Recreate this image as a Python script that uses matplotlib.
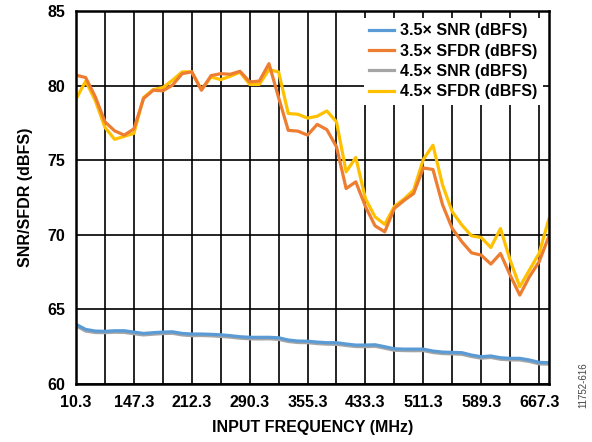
import matplotlib
matplotlib.use("Agg")
import matplotlib.pyplot as plt

plt.rcParams["font.family"] = ["Liberation Sans", "DejaVu Sans"]
plt.rcParams["font.weight"] = "bold"

# category axis: 50 measured frequencies, labelled every 6th point
tick_labels = ["10.3", "147.3", "212.3", "290.3", "355.3", "433.3", "511.3", "589.3", "667.3"]

snr_35 = [64.00, 63.66, 63.55, 63.53, 63.57, 63.57, 63.48, 63.39, 63.44, 63.48,
          63.50, 63.39, 63.35, 63.35, 63.33, 63.30, 63.24, 63.17, 63.13, 63.13,
          63.13, 63.10, 62.95, 62.88, 62.87, 62.81, 62.77, 62.77, 62.68, 62.61,
          62.61, 62.63, 62.50, 62.36, 62.34, 62.34, 62.34, 62.21, 62.14, 62.12,
          62.10, 61.94, 61.83, 61.88, 61.76, 61.72, 61.72, 61.61, 61.45, 61.43]

sfdr_35 = [80.70, 80.54, 79.25, 77.57, 76.97, 76.68, 77.10, 79.13, 79.69, 79.65,
           80.03, 80.80, 80.92, 79.69, 80.67, 80.80, 80.76, 80.96, 80.25, 80.30,
           81.47, 79.20, 77.00, 76.95, 76.68, 77.40, 77.05, 75.90, 73.10, 73.55,
           71.90, 70.60, 70.20, 71.77, 72.30, 72.77, 74.48, 74.38, 72.00, 70.42,
           69.53, 68.79, 68.64, 68.04, 68.75, 67.30, 65.96, 67.19, 68.19, 69.87]

snr_45 = [63.90, 63.55, 63.45, 63.44, 63.47, 63.46, 63.37, 63.29, 63.34, 63.38,
          63.40, 63.29, 63.24, 63.25, 63.23, 63.19, 63.14, 63.07, 63.03, 63.02,
          63.03, 62.99, 62.85, 62.78, 62.77, 62.71, 62.67, 62.66, 62.58, 62.51,
          62.50, 62.53, 62.40, 62.26, 62.24, 62.23, 62.24, 62.11, 62.04, 62.02,
          61.99, 61.84, 61.73, 61.78, 61.66, 61.62, 61.61, 61.51, 61.35, 61.33]

sfdr_45 = [79.10, 80.30, 79.00, 77.20, 76.40, 76.60, 76.80, 79.20, 79.73, 79.87,
           80.36, 80.92, 80.92, 79.73, 80.58, 80.40, 80.63, 80.90, 80.08, 80.08,
           81.07, 80.92, 78.13, 78.08, 77.82, 77.95, 78.30, 77.57, 74.22, 75.18,
           72.43, 71.20, 70.70, 71.90, 72.40, 73.00, 75.05, 76.00, 73.33, 71.54,
           70.65, 69.93, 69.82, 69.15, 70.42, 68.30, 66.52, 67.64, 68.75, 71.03]

x = list(range(len(snr_35)))

fig = plt.figure(figsize=(5.92, 4.42), dpi=100)
ax = fig.add_axes([0.1284, 0.1312, 0.7985, 0.8439])

ax.plot(x, snr_45, color="#A5A5A5", lw=2.3, zorder=3, label="4.5× SNR (dBFS)")
ax.plot(x, snr_35, color="#5B9BD5", lw=2.3, zorder=4, label="3.5× SNR (dBFS)")
ax.plot(x, sfdr_45, color="#FFC000", lw=2.3, zorder=3, label="4.5× SFDR (dBFS)")
ax.plot(x, sfdr_35, color="#ED7D31", lw=2.3, zorder=4, label="3.5× SFDR (dBFS)")

ax.set_xlim(0, len(x) - 1)
ax.set_ylim(60, 85)
ax.set_xticks(range(0, len(x), 3), minor=True)
ax.set_xticks(range(0, len(x), 6))
ax.set_xticklabels(tick_labels)
ax.set_yticks([60, 65, 70, 75, 80, 85])
ax.tick_params(which="both", length=0, labelsize=11.5)
ax.tick_params(axis="x", pad=8)
ax.tick_params(axis="y", pad=8)
ax.grid(True, which="both", color="black", lw=1.2, zorder=1)
for s in ax.spines.values():
    s.set_linewidth(1.8)
    s.set_zorder(5)

ax.set_xlabel("INPUT FREQUENCY (MHz)", fontsize=11.5, fontweight="bold", labelpad=7)
ax.set_ylabel("SNR/SFDR (dBFS)", fontsize=11.5, fontweight="bold", labelpad=10)

h, l = ax.get_legend_handles_labels()
order = [1, 3, 0, 2]
leg = ax.legend([h[i] for i in order], [l[i] for i in order],
                loc="upper right", bbox_to_anchor=(0.987, 0.982), fontsize=11.5,
                frameon=True, fancybox=False, framealpha=1, edgecolor="none",
                handlelength=1.55, handletextpad=0.35, labelspacing=0.33,
                borderpad=0.35, borderaxespad=0)
leg.set_zorder(6)

fig.text(0.985, 0.077, "11752-616", rotation=90, fontsize=7, color="#444444",
         fontweight="normal", ha="center", va="bottom")

fig.savefig("out.png", dpi=100)
